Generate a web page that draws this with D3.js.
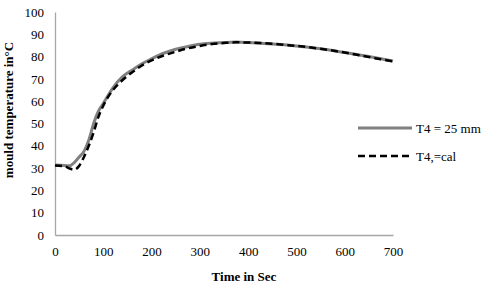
<!DOCTYPE html>
<html>
<head>
<meta charset="utf-8">
<script src="https://cdn.jsdelivr.net/npm/d3@7"></script>
<style>
  body { margin: 0; background: #fff; }
  svg text { font-family: "Liberation Serif", "Times New Roman", serif; fill: #000; }
</style>
</head>
<body>
<div id="chart"></div>
<script>
// time (s)
const times = [0, 20, 30, 40, 50, 60, 70, 80, 90, 100, 120, 140, 160, 180, 200, 225, 250, 275, 300,
  325, 350, 375, 400, 425, 450, 475, 500, 525, 550, 575, 600, 625, 650, 675, 700];
// T4 = 25 mm (measured)
const measured = [31.4, 31.2, 31, 32.5, 35, 37.5, 42.5, 50, 55.5, 59, 66, 71, 74, 76.8, 79, 81.5, 83.3,
  84.5, 85.5, 86, 86.3, 86.5, 86.3, 86, 85.7, 85.3, 84.8, 84.2, 83.5, 82.7, 81.8, 80.9, 80, 79, 78];
// T4,=cal (calculated)
const calculated = [31.2, 30.8, 29.8, 29.3, 31, 35, 40, 46, 53, 58, 65, 69.5, 73, 76, 78.3, 80.5, 82.2,
  83.7, 84.8, 85.6, 86.1, 86.4, 86.3, 86.1, 85.8, 85.3, 84.8, 84.2, 83.5, 82.7, 81.8, 80.8, 79.8, 78.8, 77.8];
const xTicks = [0, 100, 200, 300, 400, 500, 600, 700];
const yTicks = [0, 10, 20, 30, 40, 50, 60, 70, 80, 90, 100];
const seriesNames = ["T4 = 25 mm", "T4,=cal"];

const width = 492, height = 284;
const svg = d3.select("#chart").append("svg").attr("width", width).attr("height", height);

const x = d3.scaleLinear().domain([0, 700]).range([55, 393]);
const y = d3.scaleLinear().domain([0, 100]).range([235, 12]);

// axes
const xAxis = svg.append("g").attr("transform", `translate(0,${y(0)})`)
  .call(d3.axisBottom(x).tickValues(xTicks).tickSize(0).tickPadding(12).tickFormat(d3.format("d")));
const yAxis = svg.append("g").attr("transform", `translate(${x(0)},0)`)
  .call(d3.axisLeft(y).tickValues(yTicks).tickSize(0).tickPadding(11).tickFormat(d3.format("d")));
[xAxis, yAxis].forEach(g => {
  g.select(".domain").attr("stroke", "#a6a6a6").attr("stroke-width", 1.3);
  g.selectAll("text").style("font-size", "13px").attr("fill", "#000");
});

const line = (vals) => d3.line()
  .x((d, i) => x(times[i]))
  .y(d => y(d))
  .curve(d3.curveMonotoneX)(vals);

svg.append("path").attr("d", line(measured))
  .attr("fill", "none").attr("stroke", "#808080").attr("stroke-width", 3);
svg.append("path").attr("d", line(calculated))
  .attr("fill", "none").attr("stroke", "#000").attr("stroke-width", 2.5)
  .attr("stroke-dasharray", "7,4");

// axis titles
svg.append("text").attr("x", 244).attr("y", 281).attr("text-anchor", "middle")
  .style("font-size", "13px").style("font-weight", "bold").text("Time in Sec");
svg.append("text").attr("transform", "translate(13,110) rotate(-90)").attr("text-anchor", "middle")
  .style("font-size", "13px").style("font-weight", "bold").text("mould temperature in°C");

// legend
const legend = svg.append("g");
const items = legend.selectAll("g").data(seriesNames).enter().append("g")
  .attr("transform", (d, i) => `translate(358,${128 + i * 28})`);
items.append("line").attr("x1", 0).attr("x2", 54).attr("y1", 0).attr("y2", 0)
  .attr("stroke", (d, i) => i === 0 ? "#808080" : "#000")
  .attr("stroke-width", (d, i) => i === 0 ? 3 : 2.5)
  .attr("stroke-dasharray", (d, i) => i === 0 ? null : "7,4");
items.append("text").attr("x", 58).attr("y", 4.5).style("font-size", "13px").text(d => d);
</script>
</body>
</html>
